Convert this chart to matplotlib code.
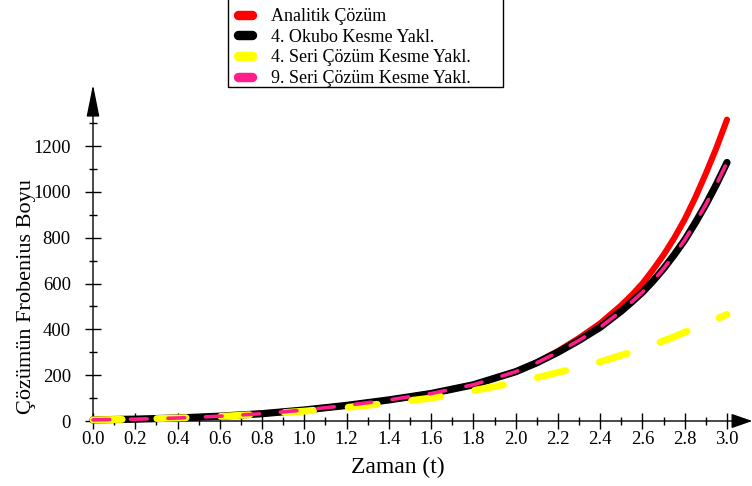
import numpy as np
import matplotlib
matplotlib.use("Agg")
import matplotlib.pyplot as plt
from matplotlib.lines import Line2D
from matplotlib.patches import Rectangle
from matplotlib.ticker import MultipleLocator, FormatStrFormatter

plt.rcParams['font.family'] = ['Liberation Serif', 'DejaVu Serif']
plt.rcParams['lines.scale_dashes'] = False

# Values
t = [0.0, 0.2, 0.4, 0.6, 0.8, 1.0, 1.2, 1.4, 1.6, 1.8, 2.0, 2.1, 2.2, 2.3,
     2.4, 2.5, 2.55, 2.6, 2.65, 2.7, 2.75, 2.8, 2.85, 2.9, 2.95, 3.0]
analitik = [5, 8, 13, 21, 32, 48, 68, 92, 120, 158, 215, 256, 305, 362,
            426, 505, 550, 600, 660, 725, 798, 880, 975, 1080, 1192, 1315]
okubo4 = [5, 8, 13, 21, 32, 48, 68, 92, 120, 158, 215, 254, 300, 352,
          409, 480, 520, 562, 611, 665, 725, 790, 865, 945, 1033, 1128]
seri4 = [5, 8, 13, 20, 30, 43, 59, 78, 100, 133, 168, 189, 212, 234,
         258, 287, 301, 316, 333, 350, 368, 387, 406, 425, 445, 465]
seri9 = [5, 8, 13, 21, 32, 48, 68, 92, 120, 158, 215, 254, 300, 352,
         409, 480, 520, 562, 611, 665, 725, 790, 865, 945, 1033, 1128]

labels = ['Analitik Çözüm', '4. Okubo Kesme Yakl.',
          '4. Seri Çözüm Kesme Yakl.', '9. Seri Çözüm Kesme Yakl.']
colors = ['#ff0000', '#000000', '#ffff00', '#ff1e8c']

W, H = 752, 486
fig = plt.figure(figsize=(W / 100, H / 100), dpi=100)
# x: 0 -> px 93, 3.0 -> px 727 ; y: 0 -> px 421, 1200 -> px 146
x0, x1 = 93, 727
y0 = 421
ytop_val = 1460
ppu = 275 / 1200
ytop = y0 - ytop_val * ppu
ax = fig.add_axes([x0 / W, 1 - y0 / H, (x1 - x0) / W, (y0 - ytop) / H])
ax.set_xlim(0, 3.0)
ax.set_ylim(0, ytop_val)
for s in ax.spines.values():
    s.set_visible(False)

ax.plot(t, analitik, color=colors[0], lw=4.4, solid_capstyle='round', clip_on=False, zorder=3)
ax.plot(t, okubo4, color=colors[1], lw=5.2, solid_capstyle='round', clip_on=False, zorder=4)
ln, = ax.plot(t, seri4, color=colors[2], lw=5.0, dash_capstyle='round', clip_on=False, zorder=5)
ln.set_dashes((21, 25))
ln, = ax.plot(t, seri9, color=colors[3], lw=2.6, dash_capstyle='round', clip_on=False, zorder=6)
ln.set_dashes((12, 15))

# axis lines with arrows
ax.annotate('', xy=(3.12, 0), xytext=(0, 0), xycoords='data',
            arrowprops=dict(arrowstyle='-|>,head_length=1.3,head_width=0.45',
                            color='black', lw=1.0, shrinkA=0, shrinkB=0),
            annotation_clip=False, zorder=2)
ax.annotate('', xy=(0, ytop_val + 8), xytext=(0, 0), xycoords='data',
            arrowprops=dict(arrowstyle='-|>,head_length=2.0,head_width=0.4',
                            color='black', lw=1.0, shrinkA=0, shrinkB=0),
            annotation_clip=False, zorder=2)

ax.xaxis.set_major_locator(MultipleLocator(0.2))
ax.xaxis.set_minor_locator(MultipleLocator(0.1))
ax.xaxis.set_major_formatter(FormatStrFormatter('%.1f'))
ax.set_yticks(np.arange(0, 1201, 200))
ax.set_yticks(np.arange(0, 1301, 100), minor=True)
ax.tick_params(axis='both', which='major', direction='inout', length=12, width=1.0,
               labelsize=13.5)
ax.tick_params(axis='both', which='minor', direction='inout', length=6, width=1.0)
ax.tick_params(axis='x', which='major', pad=1)
ax.tick_params(axis='y', which='major', pad=10)

ax.set_xlabel('Zaman (t)', fontsize=17)
ax.set_ylabel('Çözümün Frobenius Boyu', fontsize=16)
# place labels as in the reference (pixel centres)
ax.xaxis.set_label_coords((398 - x0) / (x1 - x0), -(467 - y0) / (y0 - ytop))
ax.yaxis.set_label_coords(-(x0 - 27) / (x1 - x0), (y0 - 297) / (y0 - ytop))
ax.xaxis.label.set_va('center')
ax.yaxis.label.set_va('center')

# legend: entries without frame, box drawn separately (top edge runs off the image)
handles = [Line2D([], [], color=c, lw=6.8, solid_capstyle='round') for c in colors]
leg = fig.legend(handles, labels, loc='lower left',
                 bbox_to_anchor=(238 / W, 1 - 87 / H),
                 fontsize=13, frameon=False,
                 handlelength=0.8, handletextpad=1.05, labelspacing=0.2,
                 borderpad=0.0, borderaxespad=0)
fig.patches.append(Rectangle((228 / W, 1 - 87 / H), 275 / W, 92 / H,
                             transform=fig.transFigure, fill=False,
                             edgecolor='black', lw=1.0))

fig.savefig('out.png', dpi=100)
